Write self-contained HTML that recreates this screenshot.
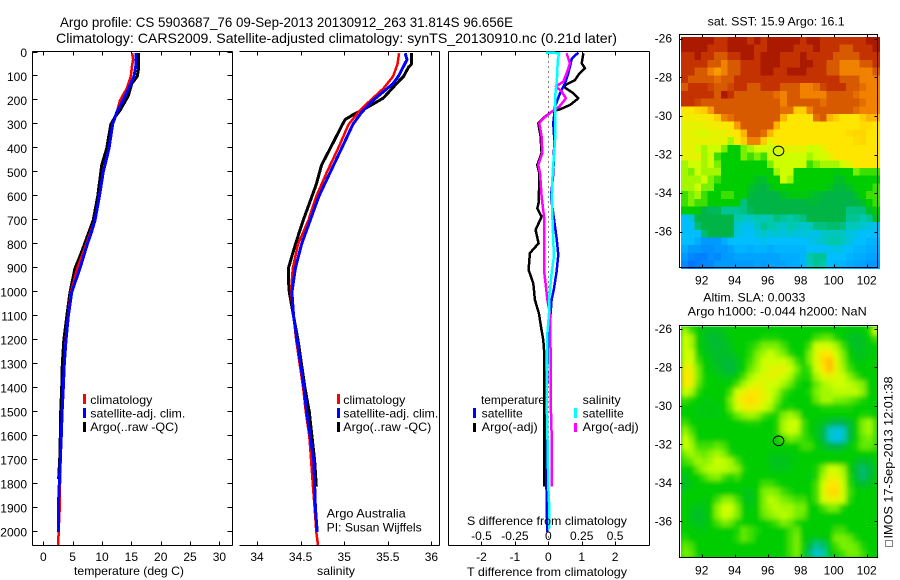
<!DOCTYPE html>
<html>
<head>
<meta charset="utf-8">
<title>Argo profile</title>
<style>
html,body{margin:0;padding:0;background:#fff;}
svg{display:block;}
text{font-family:"Liberation Sans",sans-serif;font-size:12px;fill:#000;}
.title{font-size:14px;}
.l{shape-rendering:crispEdges;}
</style>
</head>
<body>
<svg id="chart" width="900" height="580" viewBox="0 0 900 580" xmlns="http://www.w3.org/2000/svg">
<defs>
<filter id="slaSmooth" filterUnits="userSpaceOnUse" x="660" y="310" width="235" height="265"><feGaussianBlur stdDeviation="2.4"/></filter>
<clipPath id="slaClip"><rect x="681" y="326.5" width="197" height="231"/></clipPath>
</defs>
<rect x="0" y="0" width="900" height="580" fill="#fff"/>
<g id="maps"></g>
<g clip-path="url(#slaClip)"><rect x="681" y="326.5" width="197" height="231" fill="#00cd00"/><g id="slaMap" filter="url(#slaSmooth)"></g></g>
<g id="axes"></g>
<g id="series"></g>
<g id="mapframes"></g>

<text class="title" x="60" y="27" textLength="453" lengthAdjust="spacingAndGlyphs">Argo profile: CS 5903687_76 09-Sep-2013 20130912_263 31.814S 96.656E</text>
<text class="title" x="56" y="43" textLength="561" lengthAdjust="spacingAndGlyphs">Climatology: CARS2009. Satellite-adjusted climatology: synTS_20130910.nc (0.21d later)</text>

<text x="74" y="575" textLength="110" lengthAdjust="spacingAndGlyphs">temperature (deg C)</text>
<text x="317" y="575" textLength="38" lengthAdjust="spacingAndGlyphs">salinity</text>
<text x="467" y="576" textLength="160" lengthAdjust="spacingAndGlyphs">T difference from climatology</text>
<text x="467" y="525" textLength="160" lengthAdjust="spacingAndGlyphs">S difference from climatology</text>

<g>
<rect x="83" y="394" width="3" height="10" fill="#f00" class="l"/>
<text x="90.3" y="404" textLength="62" lengthAdjust="spacingAndGlyphs">climatology</text>
<rect x="83" y="408" width="3" height="10" fill="#00f" class="l"/>
<text x="90.3" y="417.5" textLength="95" lengthAdjust="spacingAndGlyphs">satellite-adj. clim.</text>
<rect x="83" y="422" width="3" height="10" fill="#000" class="l"/>
<text x="90.3" y="431" textLength="88" lengthAdjust="spacingAndGlyphs">Argo(..raw -QC)</text>
</g>

<g>
<rect x="337" y="394" width="3" height="10" fill="#f00" class="l"/>
<text x="343.3" y="404" textLength="62" lengthAdjust="spacingAndGlyphs">climatology</text>
<rect x="337" y="408" width="3" height="10" fill="#00f" class="l"/>
<text x="343.3" y="417.5" textLength="95" lengthAdjust="spacingAndGlyphs">satellite-adj. clim.</text>
<rect x="337" y="422" width="3" height="10" fill="#000" class="l"/>
<text x="343.3" y="431" textLength="88" lengthAdjust="spacingAndGlyphs">Argo(..raw -QC)</text>
</g>

<text x="326.7" y="517.5" textLength="79" lengthAdjust="spacingAndGlyphs">Argo Australia</text>
<text x="326.7" y="531.5" textLength="95" lengthAdjust="spacingAndGlyphs">PI: Susan Wijffels</text>

<g>
<text x="481" y="404" textLength="64" lengthAdjust="spacingAndGlyphs">temperature</text>
<rect x="473" y="408" width="3" height="10" fill="#00f" class="l"/>
<text x="481.7" y="417.5" textLength="41" lengthAdjust="spacingAndGlyphs">satellite</text>
<rect x="473" y="423" width="3" height="9" fill="#000" class="l"/>
<text x="481.7" y="431" textLength="56" lengthAdjust="spacingAndGlyphs">Argo(-adj)</text>
<text x="582.7" y="404" textLength="38" lengthAdjust="spacingAndGlyphs">salinity</text>
<rect x="574" y="408" width="3" height="10" fill="#0ff" class="l"/>
<text x="582.7" y="417.5" textLength="41" lengthAdjust="spacingAndGlyphs">satellite</text>
<rect x="574" y="423" width="3" height="9" fill="#f0f" class="l"/>
<text x="582.7" y="431" textLength="56" lengthAdjust="spacingAndGlyphs">Argo(-adj)</text>
</g>

<text x="707.7" y="25.5" textLength="137" lengthAdjust="spacingAndGlyphs">sat. SST: 15.9 Argo: 16.1</text>
<text x="703.3" y="301.5" textLength="102" lengthAdjust="spacingAndGlyphs">Altim. SLA: 0.0033</text>
<text x="687.7" y="315.5" textLength="179" lengthAdjust="spacingAndGlyphs">Argo h1000: -0.044 h2000: NaN</text>

<rect x="885.5" y="540.5" width="7" height="6" fill="none" stroke="#000" stroke-dasharray="1 1" class="l"/>
<text transform="translate(892.5,538.5) rotate(-90)" x="0" y="0" textLength="162" lengthAdjust="spacingAndGlyphs">IMOS 17-Sep-2013 12:01:38</text>
</svg>

<script>
/* ---------- tick labels ---------- */
const depthTicks = [0,100,200,300,400,500,600,700,800,900,1000,1100,1200,1300,1400,1500,1600,1700,1800,1900,2000];
const tempTicks = [0,5,10,15,20,25,30];
const salTicks = [34,34.5,35,35.5,36];
const tDiffTicks = [-2,-1,0,1,2];
const sDiffTicks = [-0.5,-0.25,0,0.25,0.5];
const lonTicks = [92,94,96,98,100,102];
const latTicks = [-26,-28,-30,-32,-34,-36];

/* ---------- temperature profiles ---------- */
const argoTempDepth = [3,70,100,130,180,240,270,300,400,470,600,700,800,850,900,1000,1100,1200,1300,1400,1500,1600,1700,1780];
const argoTemp = [16.2,16.2,16.0,15.06,14.5,13.1,12.2,11.5,10.8,9.95,9.27,8.5,7.0,6.25,5.4,4.55,4.0,3.5,3.24,3.13,2.96,2.9,2.8,2.6];
const climTempDepth = [3,30,60,100,150,200,250,300,400,500,600,700,800,900,1000,1100,1200,1300,1400,1500,1600,1700,1800,1900,2000,2055];
const climTemp = [15.16,15.3,15.1,14.9,14.2,13.07,12.5,11.75,11.15,10.15,9.5,8.75,7.3,5.8,4.7,4.2,3.8,3.55,3.38,3.2,3.07,2.95,2.85,2.8,2.6,2.56];
const satTempDepth = [3,50,100,130,200,250,300,400,500,600,700,750,800,900,1000,1100,1200,1300,1400,1500,1600,1700,1800,1900,2000];
const satTemp = [15.8,15.8,15.45,14.9,13.6,12.5,11.8,11.2,10.2,9.55,8.8,8.2,7.5,6.25,4.84,4.26,3.87,3.58,3.4,3.2,3.07,2.9,2.73,2.56,2.56];

/* ---------- salinity profiles ---------- */
const argoSalDepth = [3,50,60,100,130,190,230,260,280,300,400,470,550,700,800,850,900,950,1000,1100,1200,1300,1400,1500,1600,1700,1810];
const argoSal = [35.77,35.77,35.74,35.68,35.6,35.45,35.26,35.1,35.01,34.98,34.84,34.74,34.68,34.53,34.44,34.4,34.36,34.36,34.37,34.42,34.47,34.51,34.55,34.6,34.63,34.66,34.68];
const climSalDepth = [3,50,100,150,200,250,300,400,500,600,700,800,900,1000,1100,1200,1300,1400,1500,1600,1700,1800,1900,2000,2055];
const climSal = [35.63,35.61,35.56,35.45,35.3,35.16,35.05,34.93,34.8,34.68,34.59,34.47,34.41,34.39,34.42,34.45,34.49,34.53,34.56,34.6,34.62,34.64,34.66,34.68,34.7];
const satSalDepth = [3,30,100,130,200,250,300,400,500,600,700,800,900,1000,1100,1200,1300,1400,1500,1600,1700,1800,1900,2000];
const satSal = [35.7,35.72,35.62,35.56,35.33,35.2,35.1,34.97,34.84,34.71,34.61,34.51,34.44,34.4,34.42,34.46,34.5,34.54,34.57,34.61,34.65,34.66,34.67,34.69];

/* ---------- differences from climatology ---------- */
const argoTDiffDepth = [3,45,66,87,115,129,142,156,170,191,219,237,247,268,295,351,420,469,504,559,601,628,650,685,740,796,837,907,963,1032,1088,1144,1200,1254,1449,1810];
const argoTDiff = [1.05,1.0,1.1,0.93,0.8,0.6,0.45,0.6,0.75,0.9,0.65,0.35,0.1,-0.1,-0.3,-0.23,-0.2,-0.33,-0.27,-0.27,-0.29,-0.29,-0.33,-0.2,-0.38,-0.29,-0.55,-0.59,-0.45,-0.4,-0.28,-0.22,-0.15,-0.12,-0.12,-0.12];
const satTDiffDepth = [0,26,46,87,129,170,226,295,365,504,601,705,775,844,914,984,1032,1088,1172,1449,1589,1866,2000];
const satTDiff = [0.9,0.7,0.67,0.6,0.5,0.35,0.2,0.15,0.18,0.15,0.08,0.18,0.25,0.3,0.25,0.17,0.1,0.07,0,-0.05,-0.07,-0.05,-0.03];
const argoSDiffDepth = [3,45,87,122,142,163,191,226,247,275,295,351,420,469,504,601,685,782,907,1032,1088,1254,1449,1589,1810];
const argoSDiff = [0.137,0.162,0.137,0.112,0.057,0.1,0.132,0.082,0.025,-0.037,-0.067,-0.05,-0.045,-0.075,-0.062,-0.05,-0.032,-0.032,-0.032,-0.007,0.012,0.017,0.017,0.025,0.025];
const satSDiffDepth = [0,3,31,87,129,184,240,295,365,434,504,601,712,851,921,1032,1088,1172,1449,1589,1810,1893,1990];
const satSDiff = [-0.017,0.082,0.07,0.067,0.062,0.05,0.05,0.05,0.05,0.042,0.032,0.027,0.032,0.042,0.025,0.005,0.005,-0.007,-0.012,-0.007,0,0.007,0.005];

/* ---------- SST map (colour scale level per cell, north to south) ---------- */
const sstGrid = [
[11,11,11,11,11,10,10,11,11,11,10,11,10,11,11,11,11,11,10,11,11,10,10,10,10,10,10,10,11,11],
[11,11,11,11,10,10,10,11,11,11,11,10,10,11,11,11,11,10,10,10,11,10,10,10,9,9,10,10,10,11],
[10,10,11,10,10,9,9,10,10,11,11,10,11,11,11,10,10,10,11,10,10,10,10,9,9,9,9,10,10,10],
[10,10,10,10,9,9,8,9,9,10,10,10,11,11,11,10,10,10,11,11,10,10,9,9,8,8,8,9,9,10],
[10,10,9,9,8,7.5,8,9,9,10,10,10,11,11,10,10,11,11,11,10,10,10,9,9,8,8,8,8,8,9],
[10,9,9,9,9,8.5,9,9,10,10,10,10,10,10,10,10,10,10,10,10,10,10,10,10,9,9,9,8,8,8],
[9,10,10,10,9.5,9,9,9.5,10,10,9,9,10,10,10,9,9,9,8,8,8.5,9.5,10,10,10,9,9,8.5,8,8],
[10,10,10,10,10,9,11,10,9,9,9,9,9,9,8.5,8,9,9,8,8,8,8,9,9,9,9,8.5,8,8,8],
[10,10,9.5,9,9,9,9,9,9,9,9,9,9,9,9,8,9,9,9,9,9,8.5,9,9,9,9,9,8.5,8,8],
[6,6,6.3,6.5,7.5,9,9,9,9,9,9,9,9,9,9,8.5,8.5,6.5,6.5,8,9,9,9,9,9,9,8.5,8,8,8],
[5.7,5.7,5.8,5.8,6,6.5,8,8.5,9,9,9,9,9,9,9,7,6,6,6,6,8.5,9,7,6.5,6,6,6,6.5,7,7],
[5.5,5.5,5.5,5.6,5.7,5.8,5.9,6,7.5,9,9,9,9,9,7,6,6,6,6,6,6,6,6,6,6,6,6,6.2,6.2,6],
[5.5,5.5,5.3,5.2,5.4,5.5,5.6,5.8,6,7,9,9,8.5,7,6,6,6,6,6,6,6,6,6,6,6,6.2,6.3,6.3,6,6],
[5.5,5.5,5.5,5.5,5.5,5.5,5.5,4.5,5.8,6.5,8,8,6.5,5.5,6,6,6,6,6,6,6,6,6,6,6,6,6.2,6.3,6,6],
[5.5,5.5,5,4.5,5,5,4,3,3,4,4.5,5,5,5,5,5.5,5.5,5.5,5.5,5,5,5.5,6,6,6,6,6,6,6,6],
[5.5,5.5,5.5,4.5,5,3.5,3,3,3,4,3.5,4,3.5,5,5,5,5,5,5,4.5,5,5,5.5,6,6,6,6,6,6,6],
[4.5,5,5,4.5,5,4,3,3,3,3,3,3,3,4,5,5,5,5,5,3.5,4,4.5,4.5,4.5,5,5.5,6,6,6,6],
[4.5,4,5,4.5,4.5,4.5,3,3,3,3,3,3,3,2.8,4.5,5,5,3,3,3,3,3,3,2.8,3,3,4,3.5,3.5,3.5],
[4.5,4.5,4.5,5,4,3.5,3,3,3,3,3,2.5,2.5,3,3,5,4.5,3,3,3,3,3,3,2.5,2.5,3,3,3,3,3],
[4.5,4.5,5,4,4,3,3,3,3,3,2.5,2.2,2,2.5,3,3,3,3,3,3,3,3,2.6,2.2,2.2,2.5,3,3,3,3.5],
[3.5,4,4.5,3.5,3,3,3.5,3.5,3,3,2.2,2,2,2,2,2.5,2.8,2.8,2.8,2.6,2.3,2.2,2,2,2,2,2.5,3,3.5,3.5],
[3.5,4,3.5,3.5,3,3,3,3,3,1.7,2,2,2,2,2,2,2,2,2,2.2,2.2,2,2,2,2,2,2,2.4,3,3.5],
[3,3,2.8,2,1.9,1.9,1.6,1.6,1.6,1.7,1.9,2,2,2,2,2,2,2,2,2,2,2,2,2,2,1.7,1.7,1.7,2.4,3],
[1,1.2,2,2,2,2,2,2,1.5,1.4,1.3,1.5,1.4,1.5,1.7,1.6,1.5,1.6,1.7,2,2,2,2,2,2,1.6,1.6,1.5,1.6,2.5],
[1,1,1.8,2,2,2,2,2,1.3,1.1,1.1,1.3,1.6,1.5,1.4,1.3,1.5,1.4,1.3,1.4,1.7,1.7,1.8,1.8,1.7,1.4,1.4,1.3,1.2,1.1],
[1,1,1,1.8,2,2,2,2,1.2,1.1,1,1.2,1.3,1.2,1.3,1.2,1.3,1.2,1.2,1.2,1.1,1.3,1.4,1.4,1.4,1.2,1.1,1,1,1],
[1,1,0.8,0.6,0.6,0.6,0.8,1,1,1,1,1,1.1,1,1,1,1,1,1,1.1,1.2,1.3,1.5,1.5,1.4,1.2,1,1,0.9,0.9],
[0.8,0.6,0.6,0.5,0.5,0.6,0.6,0.7,0.9,0.9,0.8,0.9,0.9,0.8,0.9,0.9,0.9,0.9,0.9,1,1,1,1.1,1.2,1.1,1,0.9,0.9,0.8,0.8],
[0.6,0.4,0.3,0.3,0.5,0.4,0.6,0.6,0.7,0.7,0.7,0.7,0.7,0.7,0.7,0.8,0.8,0.8,0.9,1.5,1.6,1.6,1,1,1,0.9,0.8,0.8,0.7,0.7],
[0.4,0.2,0.3,0.4,0.4,0.6,0.6,0.6,0.6,0.6,0.6,0.7,0.6,0.7,0.7,0.7,0.8,0.8,0.9,1.4,1.6,1.5,1,0.9,0.9,0.8,0.7,0.7,0.6,0.6]
];

/* ---------- SLA map (colour scale level per cell, north to south) ---------- */
const slaGrid = [
[4.5,3.5,3,2.7,2.5,2.5,2.7,3,3,3,3,3,3,3,3,3,3,3,3,3,3,3,3,3,3,2.8,2.8,3,3.2,5],
[5,4.5,3,2.6,2.3,2.3,2.5,2.8,3,3,3,3,3.2,3.2,3.2,3,3,3,3,3,3.5,3.8,3.8,3.2,3,2.6,2.4,2.6,3,3.5],
[5,4.5,3,2.7,2.4,2.3,2.4,2.7,3,3,3.2,3.5,4,4,4,3.5,3,3,3,3.5,5,5.2,5,4.5,3.5,2.8,2.4,2.6,2.8,3],
[5,5,3.2,2.8,2.5,2.4,2.4,2.5,2.8,3,3.3,4,4.5,5,4.5,4,3.3,3,3,4,5.3,6,6,5,4,3,2.6,2.6,2.8,3],
[5.2,5,3.5,3,2.7,2.4,2.3,2.2,2.6,3,3.5,4.2,5,5,5,5,4.5,3.5,3,4,5.3,6.3,6.8,5.5,4.2,3.2,2.8,2.8,3,3],
[5.8,5.5,4,3,2.8,2.6,2.3,2.1,2.6,3,3.8,4.5,5,5.3,5.5,5.5,5,4,3.2,3.5,5,6,6.8,5.5,4.5,3.5,3,3,3,3],
[6,5.8,4,3.1,3,2.9,2.7,2.7,3,3.5,4.5,5,5.3,5.5,5.3,5,4.5,3.5,3.2,3.3,4.5,5.2,5.5,5.2,5,4.2,3.5,3,3,3],
[6,5.5,3.8,3.1,3,3,3,3,3.5,4.5,5,5.5,5.3,5,5,4.5,3.8,3.2,3,3,3.8,4.5,4.8,5,5,4.8,4.5,4,3,3],
[5,4.5,3.3,3,3,3,3,3.5,5,5.5,6,5.8,5.5,5,4.5,3.5,3.1,3,3,3.2,4,4.5,4.5,4.8,4.8,4.8,4.8,4.2,3,3],
[3.5,3.2,3,2.9,2.9,3,3,4,5.5,6,6.2,6,5.5,5,4,3.2,3,3,3,3,3.8,4.5,4.5,4,4,3.8,3.5,3.2,3,3],
[3,3,2.9,2.8,2.8,2.9,3,3.8,5,5.6,5.8,5.5,5,4.5,3.5,3,3.2,3,3,3,3,3.2,3.2,3.2,3.2,3.2,3,3,3,3],
[3,3,2.9,2.8,2.8,2.9,3,3.2,3.8,4.2,4.5,4.2,3.5,3.2,3.2,4,4.5,4,3,3,3,3,3,3,3,3,3,3.2,3.2,3],
[3.5,3,3,3,3,3,3,3,3,3.1,3.2,3.2,3,3,3.2,4.5,5,5,3.5,3,2.8,2.6,2.3,2,2,2.4,3,4,4.5,3.5],
[4.3,3.5,3,3,3,3,3,3,3,3,3,3,3,3,3.2,4.5,5,4.8,3.5,3,2.7,2.1,1.4,1.2,1.3,2.2,3,4,4.5,3.5],
[5,4,3,3,3,3,3,3,3,3,3,3,3,3,3,3.5,4,3.8,3.5,3.2,2.8,2.1,1.4,1.1,1.3,2.2,3,3.8,4,3.5],
[5,4.5,3.5,3.5,3.5,3.8,3.5,3,3,3,3,3,3,3,3,3,3,3,3.5,3.5,3,2.6,2.2,2,2.3,2.8,3.2,3.8,3.8,3.5],
[4,4.5,4,3.8,4.2,4.5,4,3.2,3,3,3,3,3,2.8,2.8,2.8,2.8,3,3,3,3,3,3,3,3,3,3,3,3,3],
[3.5,3.8,4.5,4.2,4.5,5,4.8,4.5,3.5,3,3,3,3,2.7,2.6,2.6,2.8,2.9,3,3,3,3,3,3,3,3,2.6,2.4,2.5,3],
[3,3,3.8,4.5,4.8,4.8,4.8,4.5,4.2,3.2,3,3,3,2.8,2.7,2.7,2.9,3,3,3,3.2,4,5,5,4.5,3,2.3,1.8,2.1,2.8],
[2.6,3,3,3.5,4,4.2,3.5,3.2,3.5,3,3,3,3,3,3,3,3,3,3,2.9,3.2,4.5,5.5,5.5,4.8,3.2,2.3,1.8,2.2,2.8],
[2.4,2.8,3,3,3,3,3,3,3,3,3,3,3.5,3.5,3.2,3,3,3,3,3,3.5,5,6,6,5,3.3,2.7,2.4,2.6,3],
[2.8,3,3,3,3,3,3,3,3,2.8,2.7,3,4,4.2,4,3.5,3.2,3,3,3,3.5,5.2,6.2,6.2,5.2,3.5,3,3,3,3],
[3,3,3,2.8,3,3.5,4.2,4.2,3.5,2.8,2.6,3,4,4.8,4.5,4,3.8,3.5,3.5,3,3.5,5,5.5,5.5,5,3.3,3,3,3,3],
[3,2.8,2.6,2.7,3,4.2,5,5,4,3,2.8,3,4,4.5,4.8,4.5,4.5,4,4,3,3,3.5,4,4,3.2,3,3,3,3,3],
[3,2.7,2.4,2.6,3,4.2,5,4.8,4,3,3,3,3.8,4.2,4.5,4.8,4.5,4,3.8,3,3,3,3,3,3,3,3,3,3,3],
[3,2.8,2.5,2.7,3,3.5,4,3.8,3.2,3,3,3,3,3.2,3.5,4,3.8,3.2,3,3,3,3,3,3,3,3,3,3,3,3],
[3,3,2.8,2.8,3,3,3,3,3.2,3.8,3.5,3.2,3,3,3,3,3.5,3.8,3,3,3,3,3,3.5,3.5,3,3,3,3,3],
[3.3,3,3,3,3,3,3,3,3.3,3.8,3.5,3,3,3,3,3,3.5,4,3,2.8,2.7,2.8,3,4,4,3.8,3.2,3,3,3],
[3.8,3.5,3,3,3,3,3,3,3,3,3,3,3,3,3,3,3.5,4,3.1,2.2,1.6,1.8,3,3.5,4,4,3.8,3.2,3,3],
[4,3.8,3,3,3,3,3,3,3,3,3,3,3,3,3,3,3.5,4,3,1.8,1.2,1.5,2.8,3.2,3.5,4,4,3.5,3,3]
];

const profileLon = [96.656];
const profileLat = [-31.814];

/* ---------- colour scale ---------- */
const colorLevels = [0,1,1.5,2,3,4,5,6,7,8,9,10,11];
const colorRamp = ['#0064ff','#00beff','#00c8aa','#00b446','#00cd00','#78f000','#cdff00','#ffe600','#ffb400','#f08200','#d75a00','#c33200','#aa1900'];

/* ---------- axis functions ---------- */
const depthY = d => 52.5 + d * 0.2397;
const tempX = t => 43.3 + t * 5.87;
const salX = s => 257 + (s - 34) * 87.2;
const tDiffX = t => 548.3 + t * 33.4;
const sDiffX = s => 548.3 + s * 133.6;
const lonX = l => 701.7 + (l - 92) * 16.5;
const sstLatY = l => 38.7 + (-26 - l) * 19.3;
const slaLatY = l => 329 + (-26 - l) * 19.23;

const NS = 'http://www.w3.org/2000/svg';
const axesG = document.getElementById('axes');
const seriesG = document.getElementById('series');
const mapsG = document.getElementById('maps');
const slaG = document.getElementById('slaMap');
const framesG = document.getElementById('mapframes');

function mk(tag, attrs, parent) {
  const el = document.createElementNS(NS, tag);
  for (const k in attrs) el.setAttribute(k, attrs[k]);
  parent.appendChild(el);
  return el;
}
function hexToRgb(h) {
  return [parseInt(h.substr(1,2),16), parseInt(h.substr(3,2),16), parseInt(h.substr(5,2),16)];
}
function levelColor(v) {
  let i = 0;
  while (i < colorLevels.length - 2 && v > colorLevels[i + 1]) i++;
  const f = Math.max(0, Math.min(1, (v - colorLevels[i]) / (colorLevels[i + 1] - colorLevels[i])));
  const a = hexToRgb(colorRamp[i]);
  const b = hexToRgb(colorRamp[i + 1]);
  return 'rgb(' + [0,1,2].map(c => Math.round(a[c] + (b[c] - a[c]) * f)).join(',') + ')';
}
function seg(x1, y1, x2, y2, parent, name) {
  const el = mk('line', {x1: x1, y1: y1, x2: x2, y2: y2, stroke: '#000', 'stroke-width': 1, 'shape-rendering': 'crispEdges'}, parent);
  
  
  return el;
}
function label(str, x, y, anchor, name) {
  const el = mk('text', {x: x, y: y, 'text-anchor': anchor}, axesG);
  el.textContent = str;
  
  
  return el;
}

/* ---------- profile panel frames ---------- */
const topY = 51.5, botY = 545.5;
const p1L = 32.5, p1R = 232.5, p2L = 239.5, p2R = 439.5, p3L = 448.5, p3R = 649.5;
seg(p1L, topY, p1R, topY, axesG, 'temperature-panel-top-edge');
seg(p1L, botY, p1R, botY, axesG, 'temperature-panel-bottom-edge');
seg(p1L, topY, p1L, botY, axesG, 'temperature-panel-left-edge');
seg(p1R, topY, p1R, botY, axesG, 'temperature-panel-right-edge');
seg(p2L, topY, p2R, topY, axesG, 'salinity-panel-top-edge');
seg(p2L, botY, p2R, botY, axesG, 'salinity-panel-bottom-edge');
seg(p2R, topY, p2R, botY, axesG, 'salinity-panel-right-edge');
seg(p3L, topY, p3R, topY, axesG, 'difference-panel-top-edge');
seg(p3L, botY, p3R, botY, axesG, 'difference-panel-bottom-edge');
seg(p3L, topY, p3L, botY, axesG, 'difference-panel-left-edge');
seg(p3R, topY, p3R, botY, axesG, 'difference-panel-right-edge');

depthTicks.forEach(d => {
  const y = Math.round(depthY(d)) - 0.5;
  seg(p1L, y, p1L + 5, y, axesG, 'depth-tick-left');
  seg(p1R - 5, y, p1R, y, axesG, 'depth-tick-right');
  label(String(d), 27, depthY(d) + 4.5, 'end', 'depth-tick-label');
});
tempTicks.forEach(t => {
  const x = Math.round(tempX(t)) + 0.5;
  seg(x, topY, x, topY + 4, axesG, 'temperature-tick-top');
  seg(x, botY - 4, x, botY, axesG, 'temperature-tick-bottom');
  label(String(t), tempX(t), 561, 'middle', 'temperature-tick-label');
});
salTicks.forEach(s => {
  const x = Math.round(salX(s)) + 0.5;
  seg(x, topY, x, topY + 4, axesG, 'salinity-tick-top');
  seg(x, botY - 4, x, botY, axesG, 'salinity-tick-bottom');
  label(String(s), salX(s), 561, 'middle', 'salinity-tick-label');
});
tDiffTicks.forEach(t => {
  const x = Math.round(tDiffX(t)) + 0.5;
  seg(x, topY, x, topY + 4, axesG, 't-difference-tick-top');
  seg(x, botY - 4, x, botY, axesG, 't-difference-tick-bottom');
  label(String(t), tDiffX(t), 561, 'middle', 't-difference-tick-label');
});
sDiffTicks.forEach(s => {
  label(String(s), sDiffX(s), 540, 'middle', 's-difference-tick-label');
});

/* ---------- zero reference line ---------- */
const zeroLine = mk('line', {x1: tDiffX(0), y1: topY, x2: tDiffX(0), y2: botY, stroke: '#000', 'stroke-width': 1, 'stroke-dasharray': '1 4', 'shape-rendering': 'crispEdges'}, axesG);



/* ---------- series ---------- */
function drawLine(depths, values, xFn, color, width, name) {
  const pts = values.map((v, i) => xFn(v).toFixed(1) + ',' + depthY(depths[i]).toFixed(1)).join(' ');
  const el = mk('polyline', {points: pts, fill: 'none', stroke: color, 'stroke-width': width, 'stroke-linejoin': 'round', 'shape-rendering': 'crispEdges'}, seriesG);
  
  
}
drawLine(argoTempDepth, argoTemp, tempX, '#000', 3, 'argo-temperature-line');
drawLine(climTempDepth, climTemp, tempX, '#f00', 2.5, 'climatology-temperature-line');
drawLine(satTempDepth, satTemp, tempX, '#00f', 3, 'satellite-temperature-line');
drawLine(argoSalDepth, argoSal, salX, '#000', 3, 'argo-salinity-line');
drawLine(climSalDepth, climSal, salX, '#f00', 2.5, 'climatology-salinity-line');
drawLine(satSalDepth, satSal, salX, '#00f', 3, 'satellite-salinity-line');
drawLine(argoTDiffDepth, argoTDiff, tDiffX, '#000', 2.5, 'argo-t-difference-line');
drawLine(satTDiffDepth, satTDiff, tDiffX, '#00f', 2.5, 'satellite-t-difference-line');
drawLine(argoSDiffDepth, argoSDiff, sDiffX, '#f0f', 2.5, 'argo-s-difference-line');
drawLine(satSDiffDepth, satSDiff, sDiffX, '#0ff', 2.5, 'satellite-s-difference-line');

/* ---------- maps ---------- */
function drawMap(grid, latY, latTop, name, parent) {
  const lonStart = 90.76;
  const step = 0.4;
  grid.forEach((row, r) => {
    row.forEach((v, c) => {
      const x0 = lonX(lonStart + c * step);
      const x1 = lonX(lonStart + (c + 1) * step);
      const y0 = latY(latTop - r * step);
      const y1 = latY(latTop - (r + 1) * step);
      const cell = mk('rect', {x: x0.toFixed(2), y: y0.toFixed(2), width: (x1 - x0 + 0.6).toFixed(2), height: (y1 - y0 + 0.6).toFixed(2), fill: levelColor(v), 'shape-rendering': 'crispEdges'}, parent);
      
      
    });
  });
}
drawMap(sstGrid, sstLatY, -25.9, 'sst-map-cell', mapsG);
drawMap(slaGrid, slaLatY, -25.88, 'sla-map-cell', slaG);

function drawMapFrame(left, right, top, bottom, latY, xLabelY, name) {
  const box = mk('rect', {x: left, y: top, width: right - left, height: bottom - top, fill: 'none', stroke: '#000', 'stroke-width': 1, 'shape-rendering': 'crispEdges'}, framesG);
  
  
  lonTicks.forEach(l => {
    const x = Math.round(lonX(l)) + 0.5;
    seg(x, top, x, top + 3, framesG, name + '-longitude-tick');
    seg(x, bottom - 3, x, bottom, framesG, name + '-longitude-tick');
    label(String(l), lonX(l), xLabelY, 'middle', name + '-longitude-label');
  });
  latTicks.forEach(l => {
    const y = Math.round(latY(l)) + 0.5;
    seg(left, y, left + 3, y, framesG, name + '-latitude-tick');
    seg(right - 3, y, right, y, framesG, name + '-latitude-tick');
    label(String(l), 672, latY(l) + 4, 'end', name + '-latitude-label');
  });
}
drawMapFrame(679.5, 877.5, 34.5, 267.5, sstLatY, 284.5, 'sst-map');
drawMapFrame(679.5, 877.5, 325.5, 557.5, slaLatY, 574.5, 'sla-map');

const sstMarker = mk('ellipse', {cx: lonX(profileLon[0]), cy: sstLatY(profileLat[0]), rx: 5.3, ry: 4.8, fill: 'none', stroke: '#000', 'stroke-width': 1}, framesG);


const slaMarker = mk('ellipse', {cx: lonX(profileLon[0]), cy: slaLatY(profileLat[0]), rx: 5.3, ry: 4.8, fill: 'none', stroke: '#000', 'stroke-width': 1}, framesG);


</script>
</body>
</html>
